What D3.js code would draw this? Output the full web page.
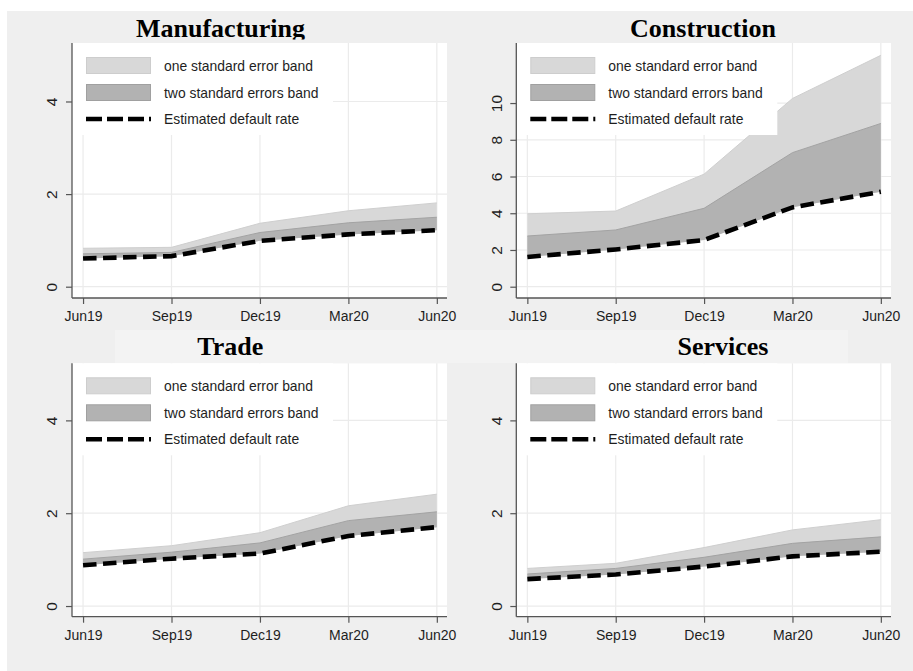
<!DOCTYPE html>
<html>
<head>
<meta charset="utf-8">
<script src="https://cdn.jsdelivr.net/npm/d3@7"></script>
<style>
  html, body { margin: 0; padding: 0; background: #ffffff; }
  svg { display: block; }
  .tick-label { font-family: "Liberation Sans", Arial, sans-serif; font-size: 14px; fill: #1e1e1e; }
  .ytick-label { font-family: "Liberation Sans", Arial, sans-serif; font-size: 15.5px; fill: #1e1e1e; }
  .legend-label { font-family: "Liberation Sans", Arial, sans-serif; font-size: 13.9px; fill: #1e1e1e; }
  .panel-title { font-family: "Liberation Serif", "Times New Roman", serif; font-weight: bold; font-size: 26px; fill: #000; }
</style>
</head>
<body>
<svg id="chart" width="913" height="671"></svg>
<script>
// Quarterly observation dates on the x axis
const periods = ["Jun19", "Sep19", "Dec19", "Mar20", "Jun20"];

// Estimated default rate (%) and upper edges of the error bands, by sector
const manufacturingRate  = [0.61, 0.66, 0.99, 1.13, 1.22];
const manufacturingTwoSE = [0.71, 0.74, 1.17, 1.38, 1.50];
const manufacturingOneSE = [0.83, 0.85, 1.37, 1.64, 1.81];

const constructionRate  = [1.62, 2.03, 2.54, 4.32, 5.17];
const constructionTwoSE = [2.76, 3.09, 4.27, 7.30, 8.89];
const constructionOneSE = [3.97, 4.12, 6.13, 10.25, 12.60];

const tradeRate  = [0.88, 1.02, 1.13, 1.51, 1.70];
const tradeTwoSE = [1.01, 1.16, 1.36, 1.84, 2.03];
const tradeOneSE = [1.15, 1.30, 1.58, 2.16, 2.41];

const servicesRate  = [0.58, 0.68, 0.85, 1.07, 1.17];
const servicesTwoSE = [0.69, 0.81, 1.05, 1.35, 1.49];
const servicesOneSE = [0.81, 0.92, 1.26, 1.64, 1.86];

// Y-axis tick values
const yTicksDefault = [0, 2, 4];
const yTicksConstruction = [0, 2, 4, 6, 8, 10];

// Legend entries
const legendLabels = ["one standard error band", "two standard errors band", "Estimated default rate"];

const panels = [
  { title: "Manufacturing", rate: manufacturingRate, two: manufacturingTwoSE, one: manufacturingOneSE,
    yTicks: yTicksDefault, yDomain: [-0.244, 5.263],
    box: { left: 72, right: 447, top: 43, bottom: 298 }, titleX: 220.5, titleY: 37, titleClip: 39.5 },
  { title: "Construction", rate: constructionRate, two: constructionTwoSE, one: constructionOneSE,
    yTicks: yTicksConstruction, yDomain: [-0.615, 13.27],
    box: { left: 516.3, right: 891, top: 43, bottom: 298 }, titleX: 703, titleY: 37, titleClip: 39.5 },
  { title: "Trade", rate: tradeRate, two: tradeTwoSE, one: tradeOneSE,
    yTicks: yTicksDefault, yDomain: [-0.23, 5.23],
    box: { left: 72, right: 447, top: 363.3, bottom: 616.7 }, titleX: 230.3, titleY: 355, titleClip: 363,
    titleBg: { x: 115, y: 330, w: 345, h: 33 } },
  { title: "Services", rate: servicesRate, two: servicesTwoSE, one: servicesOneSE,
    yTicks: yTicksDefault, yDomain: [-0.23, 5.23],
    box: { left: 516.3, right: 891, top: 363.3, bottom: 616.7 }, titleX: 723, titleY: 355, titleClip: 363,
    titleBg: { x: 453, y: 330, w: 395, h: 33 } }
];

const svg = d3.select("#chart");

// Grey page background
svg.append("rect").attr("x", 7).attr("y", 11).attr("width", 906).attr("height", 660).attr("fill", "#efefef");

const defs = svg.append("defs");

panels.forEach((p, i) => {
  const b = p.box;
  const x = d3.scaleLinear().domain([-0.125, 4.115]).range([b.left, b.right]);
  const y = d3.scaleLinear().domain(p.yDomain).range([b.bottom, b.top]);
  const g = svg.append("g");

  // Title (background strip + clipped bold serif text)
  if (p.titleBg) {
    g.append("rect").attr("x", p.titleBg.x).attr("y", p.titleBg.y)
      .attr("width", p.titleBg.w).attr("height", p.titleBg.h).attr("fill", "#f3f3f3");
  }
  const clipId = "title-clip-" + i;
  defs.append("clipPath").attr("id", clipId).append("rect")
    .attr("x", p.titleX - 200).attr("y", p.titleY - 40).attr("width", 400).attr("height", p.titleClip - (p.titleY - 40));
  g.append("text").attr("class", "panel-title").attr("clip-path", `url(#${clipId})`)
    .attr("x", p.titleX).attr("y", p.titleY).attr("text-anchor", "middle").text(p.title);

  // Plot region
  g.append("rect").attr("x", b.left).attr("y", b.top)
    .attr("width", b.right - b.left).attr("height", b.bottom - b.top).attr("fill", "#ffffff");

  // Grid lines
  g.append("g").selectAll("line").data(p.yTicks).join("line")
    .attr("x1", b.left).attr("x2", b.right)
    .attr("y1", d => y(d)).attr("y2", d => y(d))
    .attr("stroke", "#ebebeb").attr("stroke-width", 1.2);
  g.append("g").selectAll("line").data(periods).join("line")
    .attr("x1", (d, k) => x(k)).attr("x2", (d, k) => x(k))
    .attr("y1", b.top).attr("y2", b.bottom)
    .attr("stroke", "#ebebeb").attr("stroke-width", 1.2);

  // Error bands from the estimate upward
  const idx = d3.range(periods.length);
  const oneArea = d3.area().x(k => x(k)).y0(k => y(p.rate[k])).y1(k => y(p.one[k]));
  const twoArea = d3.area().x(k => x(k)).y0(k => y(p.rate[k])).y1(k => y(p.two[k]));
  const oneTop = d3.line().x(k => x(k)).y(k => y(p.one[k]));
  const twoTop = d3.line().x(k => x(k)).y(k => y(p.two[k]));
  g.append("path").attr("d", oneArea(idx)).attr("fill", "#d8d8d8");
  g.append("path").attr("d", oneTop(idx)).attr("fill", "none").attr("stroke", "#cfcfcf").attr("stroke-width", 1);
  g.append("path").attr("d", twoArea(idx)).attr("fill", "#b2b2b2");
  g.append("path").attr("d", twoTop(idx)).attr("fill", "none").attr("stroke", "#a3a3a3").attr("stroke-width", 1);

  // Estimated default rate
  const rateLine = d3.line().x(k => x(k)).y(k => y(p.rate[k]));
  g.append("path").attr("d", rateLine(idx)).attr("fill", "none")
    .attr("stroke", "#000").attr("stroke-width", 4.6).attr("stroke-dasharray", "13.5,6.5");

  // Legend box (opaque, drawn over the bands)
  const lg = g.append("g").attr("transform", `translate(${b.left},${b.top})`);
  lg.append("rect").attr("x", 0).attr("y", 0).attr("width", 261).attr("height", 92).attr("fill", "#ffffff");
  lg.append("rect").attr("x", 14.5).attr("y", 14.5).attr("width", 64).attr("height", 16)
    .attr("fill", "#d8d8d8").attr("stroke", "#cdcdcd");
  lg.append("rect").attr("x", 14.5).attr("y", 41.5).attr("width", 64).attr("height", 16)
    .attr("fill", "#b2b2b2").attr("stroke", "#a0a0a0");
  lg.append("line").attr("x1", 14).attr("x2", 79).attr("y1", 76).attr("y2", 76)
    .attr("stroke", "#000").attr("stroke-width", 4.6).attr("stroke-dasharray", "16,5");
  lg.selectAll("text").data(legendLabels).join("text").attr("class", "legend-label")
    .attr("x", 92).attr("y", (d, k) => 27.8 + k * 26.7).text(d => d);

  // Axes
  const yAxis = d3.axisLeft(y).tickValues(p.yTicks).tickSize(6).tickFormat(d3.format("d"));
  const ya = g.append("g").attr("transform", `translate(${b.left},0)`).call(yAxis);
  ya.select(".domain").attr("d", `M0,${b.top}V${b.bottom}`).attr("stroke", "#555").attr("stroke-width", 1.3);
  ya.selectAll(".tick line").attr("stroke", "#555").attr("stroke-width", 1.2);
  ya.selectAll(".tick text").attr("class", "ytick-label").attr("font-family", null).attr("font-size", null)
    .attr("fill", null).attr("x", null).attr("dy", null)
    .attr("text-anchor", "middle")
    .attr("transform", "translate(-20,0) rotate(-90)")
    .attr("dy", "0.35em");

  const xAxis = d3.axisBottom(x).tickValues(d3.range(periods.length)).tickSize(6).tickFormat(k => periods[k]);
  const xa = g.append("g").attr("transform", `translate(0,${b.bottom})`).call(xAxis);
  xa.select(".domain").attr("d", `M${b.left},0H${b.right}`).attr("stroke", "#555").attr("stroke-width", 1.3);
  xa.selectAll(".tick line").attr("stroke", "#555").attr("stroke-width", 1.2);
  xa.selectAll(".tick text").attr("class", "tick-label").attr("font-family", null).attr("font-size", null)
    .attr("fill", null).attr("y", 23).attr("dy", null);
});
</script>
</body>
</html>
